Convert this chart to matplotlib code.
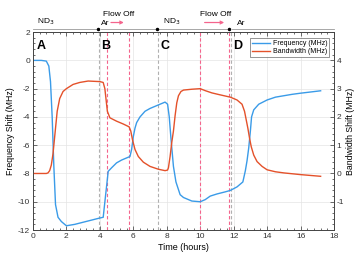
import matplotlib.pyplot as plt
from matplotlib.ticker import MultipleLocator

plt.rcParams['font.family'] = ['Liberation Sans', 'DejaVu Sans']
plt.rcParams['axes.unicode_minus'] = False

# frequency shift (left axis)
freq_t = [0, 0.5, 0.8, 0.95, 1.05, 1.15, 1.25, 1.35, 1.5, 1.7, 2.0, 2.5, 3.0, 3.5, 4.0, 4.2,
          4.5, 4.7, 5.0, 5.3, 5.6, 5.8, 5.9, 6.0, 6.1, 6.2, 6.4, 6.7, 7.0, 7.5, 7.9,
          8.05, 8.15, 8.25, 8.4, 8.55, 8.8, 9.0, 9.5, 10.0, 10.1, 10.3, 10.6, 11.0, 11.5, 11.8,
          12.2, 12.55, 12.7, 12.8, 12.9, 13.0, 13.07, 13.2, 13.5, 14.0, 14.5, 15.0, 15.5, 16.0, 16.5, 17.2]
freq = [0, 0, -0.05, -0.4, -1.5, -4.0, -7.5, -10.2, -11.1, -11.4, -11.7, -11.6, -11.45, -11.3, -11.15, -11.1,
        -7.85, -7.6, -7.25, -7.05, -6.9, -6.8, -6.3, -5.4, -4.8, -4.4, -4.0, -3.6, -3.4, -3.15, -2.95,
        -3.1, -4.0, -5.5, -7.5, -8.6, -9.5, -9.7, -9.95, -10.0, -9.95, -9.85, -9.6, -9.45, -9.3, -9.2,
        -8.95, -8.6, -7.8, -7.1, -6.2, -5.0, -4.0, -3.5, -3.1, -2.8, -2.6, -2.5, -2.4, -2.32, -2.25, -2.15]

# bandwidth shift (right axis)
bw_t = [0, 0.8, 0.9, 1.0, 1.1, 1.2, 1.3, 1.45, 1.6, 1.8, 2.0, 2.4, 2.8, 3.3, 4.0, 4.2,
        4.3, 4.45, 4.6, 5.0, 5.4, 5.75, 5.85, 5.95, 6.1, 6.3, 6.6, 7.0, 7.5, 7.9,
        8.05, 8.1, 8.2, 8.3, 8.4, 8.5, 8.6, 8.7, 8.85, 9.0, 9.5, 10.0, 10.3, 10.7, 11.2, 11.8,
        12.2, 12.5, 12.65, 12.75, 12.85, 12.95, 13.05, 13.2, 13.4, 13.7, 14.0, 14.5, 15.0, 16.0, 17.2]
bw = [0, 0, 0.02, 0.1, 0.3, 0.7, 1.3, 2.2, 2.65, 2.9, 3.0, 3.15, 3.22, 3.27, 3.25, 3.22,
      3.0, 2.2, 1.97, 1.85, 1.75, 1.65, 1.5, 1.2, 0.85, 0.6, 0.4, 0.25, 0.15, 0.1,
      0.12, 0.2, 0.6, 1.1, 1.5, 2.05, 2.5, 2.75, 2.9, 2.95, 2.98, 3.0, 2.93, 2.85, 2.78, 2.7,
      2.6, 2.45, 2.2, 1.9, 1.6, 1.25, 0.95, 0.65, 0.42, 0.25, 0.13, 0.06, 0.02, -0.04, -0.1]

gray_lines = [3.95, 7.45, 11.87]
pink_lines = [4.45, 5.75, 10.0, 11.75]
panel_x = [0.2, 4.1, 7.65, 11.95]
panel_labels = ['A', 'B', 'C', 'D']
gas_x = [0.25, 4.05, 7.8, 12.2]
gas_labels = ['ND$_3$', 'Ar', 'ND$_3$', 'Ar']
gas_bounds = [0, 3.9, 7.4, 11.75, 18]
flow_off = [(4.5, 5.6), (10.1, 11.6)]

blue = '#3a9be8'
red = '#e4512a'
pink = '#f4648c'

fig = plt.figure(figsize=(3.58, 2.57), dpi=100)
ax = fig.add_axes([0.092, 0.105, 0.841, 0.77])
ax2 = ax.twinx()

for x in gray_lines:
    ax.axvline(x, color='#b0b0b0', ls='--', lw=0.8, dashes=(3, 2))
for x in pink_lines:
    ax.axvline(x, color=pink, ls='--', lw=0.8, dashes=(3, 2))

l1, = ax.plot(freq_t, freq, color=blue, lw=1.0, label='Frequency (MHz)')
l2, = ax2.plot(bw_t, bw, color=red, lw=1.0, label='Bandwidth (MHz)')

ax.set_xlim(0, 18)
ax.set_ylim(-12, 2)
ax2.set_ylim(-2, 5)
ax.xaxis.set_major_locator(MultipleLocator(2))
ax.xaxis.set_minor_locator(MultipleLocator(0.4))
ax.yaxis.set_major_locator(MultipleLocator(2))
ax.yaxis.set_minor_locator(MultipleLocator(0.4))
ax2.set_yticks([-1, 0, 1, 2, 3, 4])
ax2.yaxis.set_minor_locator(MultipleLocator(0.2))
ax.grid(True, color='#e4e4e4', lw=0.5)
ax.set_axisbelow(True)

for a in (ax, ax2):
    a.tick_params(which='both', direction='in', labelsize=6, colors='#333333', width=0.5, pad=2)
    a.tick_params(which='major', length=3)
    a.tick_params(which='minor', length=1.5)
    for s in a.spines.values():
        s.set_linewidth(0.6)
        s.set_color('#444444')
ax.tick_params(which='both', top=True)

ax.set_xlabel('Time (hours)', fontsize=6.5, labelpad=2)
ax.set_ylabel('Frequency Shift (MHz)', fontsize=6.3, labelpad=2)
ax2.set_ylabel('Bandwidth Shift (MHz)', fontsize=6.3, labelpad=1)

for x, s in zip(panel_x, panel_labels):
    ax.text(x, 1.0, s, fontsize=9, fontweight='bold', va='center', ha='left')

# gas timeline above the axes
for i in range(len(gas_bounds) - 1):
    x0 = gas_bounds[i] + (0.15 if i > 0 else 0)
    x1 = gas_bounds[i + 1]
    ax.plot([x0, x1], [2.25, 2.25], color='#999999', lw=0.6, clip_on=False)
for x in gas_bounds[1:-1]:
    ax.plot([x], [2.25], 'o', color='black', ms=1.5, clip_on=False)
for x, s in zip(gas_x, gas_labels):
    ax.text(x, 2.33, s, fontsize=6, ha='left', va='bottom', clip_on=False)
for x0, x1 in flow_off:
    ax.annotate('', xy=(x1, 2.68), xytext=(x0, 2.68), annotation_clip=False,
                arrowprops=dict(arrowstyle='->', color=pink, lw=0.9, mutation_scale=5))
    ax.text((x0 + x1) / 2 + 0.1, 3.0, 'Flow Off', fontsize=6, ha='center', va='bottom')

leg = ax2.legend(handles=[l1, l2], loc='upper right', fontsize=5, frameon=True,
                 fancybox=False, edgecolor='#444444', handlelength=2.6, handletextpad=0.4,
                 borderpad=0.3, labelspacing=0.15, borderaxespad=0,
                 bbox_to_anchor=(0.985, 0.97))
leg.get_frame().set_linewidth(0.5)

fig.savefig('out.png', dpi=100)
